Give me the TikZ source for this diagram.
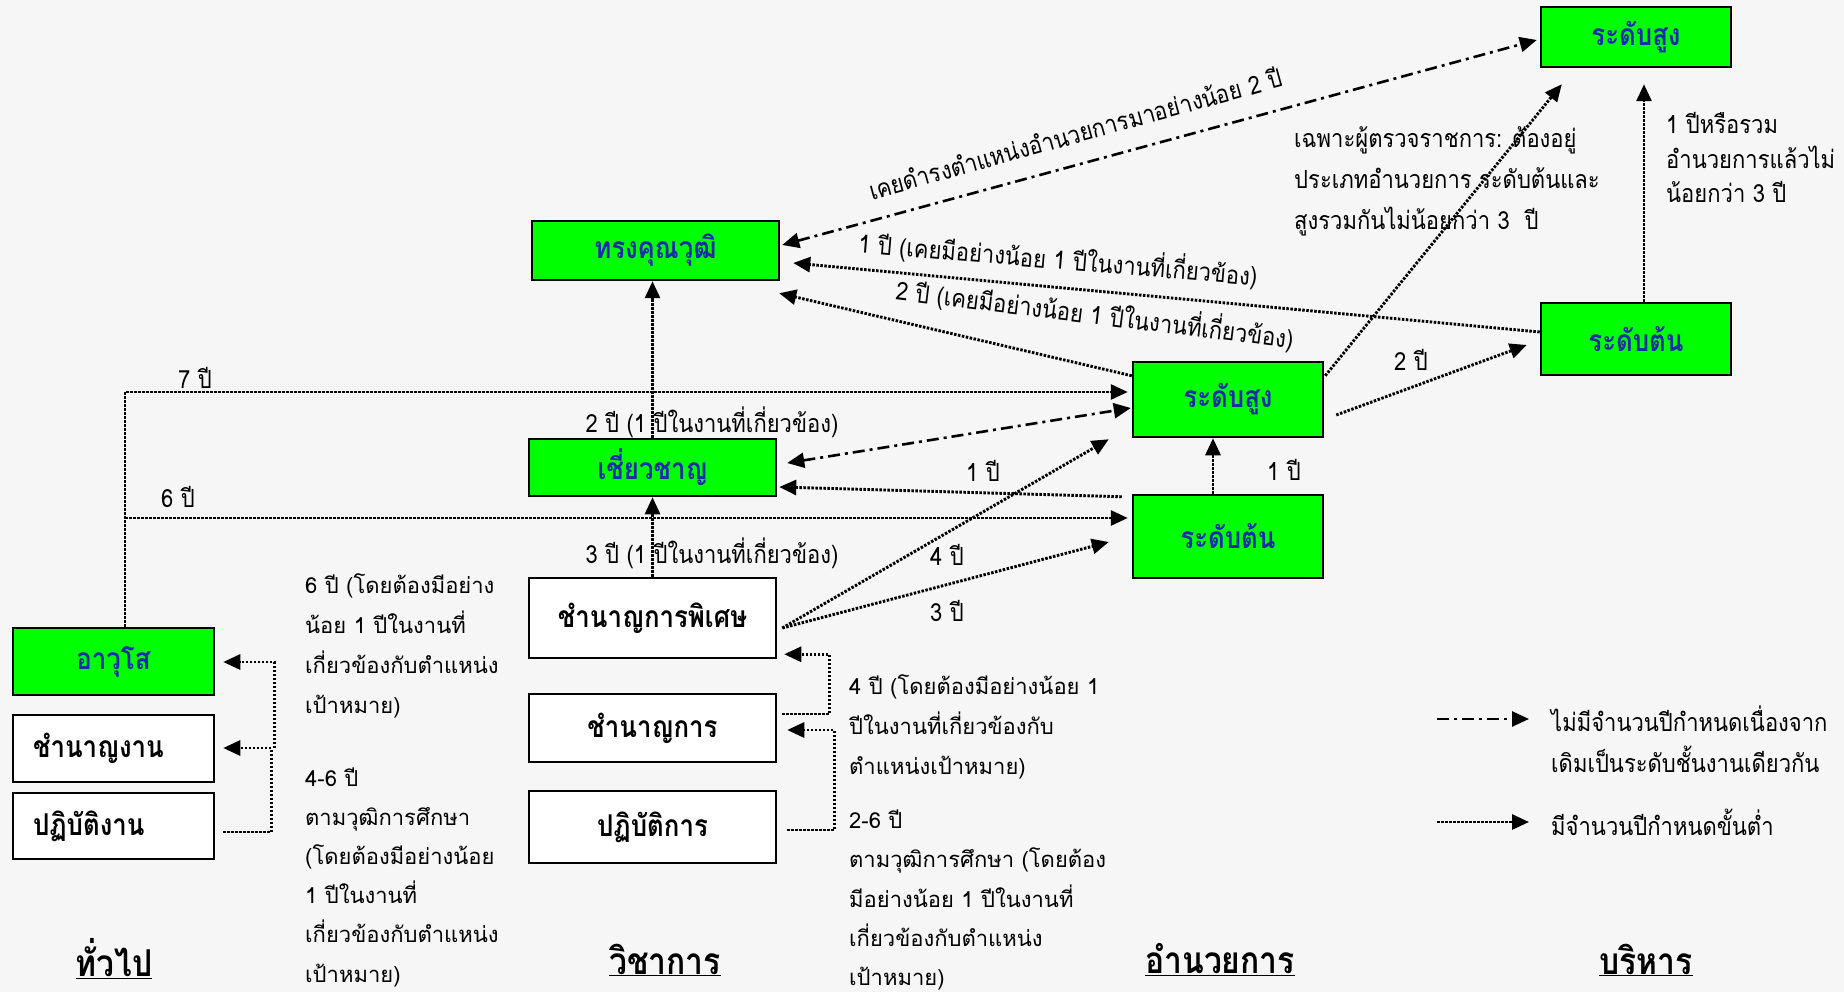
\documentclass[tikz,border=0pt]{standalone}
\usepackage{fontspec}
\newfontfamily\thai[Script=Thai]{Loma}
\newfontfamily\thaic[Script=Thai,FakeStretch=0.88]{Loma}
\newfontfamily\thaib[Script=Thai,FakeStretch=0.86]{Loma}
\usetikzlibrary{arrows.meta,calc}
\definecolor{bg}{RGB}{246,246,246}
\definecolor{boxgreen}{RGB}{0,255,0}
\definecolor{boxblue}{RGB}{25,45,170}
\tikzset{
  box/.style={draw=black, line width=2.5pt, inner sep=0pt, font=\thaib\bfseries\fontsize{30}{34}\selectfont},
  gbox/.style={box, fill=boxgreen, text=boxblue},
  wbox/.style={box, fill=white, text=black},
  lbl/.style={inner sep=0pt, font=\thaic\fontsize{25}{28}\selectfont, text=black},
  note/.style={lbl, align=left, anchor=west},
  wnote/.style={inner sep=0pt, align=left, anchor=west, text=black},
  head/.style={inner sep=0pt, font=\thaib\bfseries\fontsize{37}{42}\selectfont},
  tip/.style={-{Triangle[length=17pt,width=15pt]}},
  dtip/.style={{Triangle[length=17pt,width=15pt]}-{Triangle[length=17pt,width=15pt]}},
  dotl/.style={line width=2.9pt, dash pattern=on 2.5pt off 1.5pt, tip},
  dashdot/.style={line width=2.6pt, dash pattern=on 12pt off 5pt on 3pt off 5pt},
}
\begin{document}
\begin{tikzpicture}[x=1pt,y=-1pt]
\fill[bg] (0,0) rectangle (1844,992);
\useasboundingbox (0,0) rectangle (1844,992);

% boxes
\node[gbox, minimum width=247pt, minimum height=59pt] (tk) at (655.5,250.5) {ทรงคุณวุฒิ};
\node[gbox, minimum width=247pt, minimum height=57pt] (cc) at (652.5,467.5) {เชี่ยวชาญ};
\node[wbox, minimum width=247pt, minimum height=80pt] (cp) at (652.5,618) {ชำนาญการพิเศษ};
\node[wbox, minimum width=247pt, minimum height=68pt] (cg) at (652.5,728) {ชำนาญการ};
\node[wbox, minimum width=247pt, minimum height=72pt] (pk) at (652.5,827) {ปฏิบัติการ};
\node[gbox, minimum width=201pt, minimum height=67pt] (aw) at (113.5,661.5) {อาวุโส};
\node[wbox, inner xsep=20pt, text width=161pt, align=left, minimum height=67pt] (cn) at (113.5,748.5) {ชำนาญงาน};
\node[wbox, inner xsep=20pt, text width=161pt, align=left, minimum height=66pt] (pn) at (113.5,826) {ปฏิบัติงาน};
\node[gbox, minimum width=190pt, minimum height=75pt] (ah) at (1228,399.5) {ระดับสูง};
\node[gbox, minimum width=190pt, minimum height=83pt] (al) at (1228,536.5) {ระดับต้น};
\node[gbox, minimum width=190pt, minimum height=72pt] (bl) at (1636,339) {ระดับต้น};
\node[gbox, minimum width=190pt, minimum height=60pt] (bh) at (1636,37) {ระดับสูง};

% headings
\node[head] (h1) at (114,959) {\underline{ทั่วไป}};
\node[head] (h2) at (665,960) {\underline{วิชาการ}};
\node[head] (h3) at (1220,960) {\underline{อำนวยการ}};
\node[head] (h4) at (1646,960) {\underline{บริหาร}};

% connectors
\draw[dashdot, dtip] ($(tk.east)+(2,-5.5)$) -- ($(bh.west)+(-3,3)$);
\draw[dotl] ($(bl.west)+(0,-7)$) -- ($(tk.east)+(13,12.5)$);
\draw[dotl] ($(ah.north west)+(0,15)$) -- ($(tk.south east)+(-1,12)$);
\draw[dotl] ($(bl.north)+(8,0)$) -- ($(bh.south)+(8,16)$);
\draw[dotl] ($(ah.north east)+(1,15)$) -- ($(bh.south west)+(22,16)$);
\draw[dotl] ($(ah.east)+(12,15.5)$) -- ($(bl.west)+(-13,6)$);
\draw[dotl] ($(al.north)+(-15,0)$) -- ($(ah.south)+(-15,0)$);
\draw[dashdot, dtip] ($(cc.east)+(10,-4.5)$) -- ($(ah.west)+(-1,8.5)$);
\draw[dotl] ($(al.north west)+(-10,3)$) -- ($(cc.east)+(2,19.5)$);
\draw[dotl] ($(aw.north)+(11.5,0)$) |- ($(ah.west)+(-4,-7.5)$);
\coordinate (j6) at (125,518);
\draw[dotl] (j6) -- ($(al.west)+(-4,-18.5)$);
\draw[dotl] (cc.north) -- (cc.north |- tk.south);
\draw[dotl] (cp.north) -- (cp.north |- cc.south);
\draw[dotl] ($(cp.east)+(5,10)$) -- ($(ah.south west)+(-23,1)$);
\draw[dotl] ($(cp.east)+(5,10)$) -- ($(al.west)+(-23,5.5)$);
\draw[dotl] ($(cg.east)+(5,-14)$) -| ($(cp.south east)+(52,-5)$) -- ($(cp.south east)+(7,-5)$);
\draw[dotl] ($(pk.east)+(10,3)$) -| ($(cg.east)+(57,2)$) -- ($(cg.east)+(10,2)$);
\draw[dotl] ($(pn.east)+(8,6)$) -| ($(cn.east)+(56,-0.5)$) -- ($(cn.east)+(8,-0.5)$);
\draw[dotl] ($(cn.east)+(59,-0.5)$) |- ($(aw.east)+(8,0.5)$);

% labels
\node[lbl, rotate=15.5] (l1) at (1075,133) {เคยดำรงตำแหน่งอำนวยการมาอย่างน้อย 2 ปี};
\node[lbl, rotate=-4.7] (l2) at (1058,259) {1 ปี (เคยมีอย่างน้อย 1 ปีในงานที่เกี่ยวข้อง)};
\node[lbl, rotate=-7] (l3) at (1095,314) {2 ปี (เคยมีอย่างน้อย 1 ปีในงานที่เกี่ยวข้อง)};
\node[note, font=\thaic\fontsize{25}{34.5}\selectfont] (l4) at (1666,157.5) {1 ปีหรือรวม\\อำนวยการแล้วไม่\\น้อยกว่า 3 ปี};
\node[note, font=\thaic\fontsize{25}{41}\selectfont] (l5) at (1294,181) {เฉพาะผู้ตรวจราชการ: ต้องอยู่\\ประเภทอำนวยการ ระดับต้นและ\\สูงรวมกันไม่น้อยกว่า 3~ ปี};
\node[lbl] (l6) at (1411,360) {2 ปี};
\node[lbl] (l7) at (1284,470) {1 ปี};
\node[lbl] (l8) at (983,471) {1 ปี};
\node[lbl] (l9) at (195,378) {7 ปี};
\node[lbl] (l10) at (178,497) {6 ปี};
\node[lbl] (l11) at (712,422) {2 ปี (1 ปีในงานที่เกี่ยวข้อง)};
\node[lbl] (l12) at (712,553) {3 ปี (1 ปีในงานที่เกี่ยวข้อง)};
\node[lbl] (l13) at (947,555) {4 ปี};
\node[lbl] (l14) at (947,611) {3 ปี};
\node[wnote, font=\thai\fontsize{22}{40}\selectfont] (l15) at (849,727) {4 ปี (โดยต้องมีอย่างน้อย 1\\ปีในงานที่เกี่ยวข้องกับ\\ตำแหน่งเป้าหมาย)};
\node[wnote, font=\thai\fontsize{22}{39.3}\selectfont] (l16) at (849,900) {2-6 ปี\\ตามวุฒิการศึกษา (โดยต้อง\\มีอย่างน้อย 1 ปีในงานที่\\เกี่ยวข้องกับตำแหน่ง\\เป้าหมาย)};
\node[wnote, font=\thai\fontsize{22}{40}\selectfont] (l17) at (305,646) {6 ปี (โดยต้องมีอย่าง\\น้อย 1 ปีในงานที่\\เกี่ยวข้องกับตำแหน่ง\\เป้าหมาย)};
\node[wnote, font=\thai\fontsize{22}{39.2}\selectfont] (l18) at (305,877) {4-6 ปี\\ตามวุฒิการศึกษา\\(โดยต้องมีอย่างน้อย\\1 ปีในงานที่\\เกี่ยวข้องกับตำแหน่ง\\เป้าหมาย)};

% legend
\coordinate (lga) at (1437,719);
\coordinate (lgb) at (1529,719);
\coordinate (lgc) at (1437,822);
\coordinate (lgd) at (1529,822);
\draw[dashdot, tip] (lga) -- (lgb);
\draw[dotl] (lgc) -- (lgd);
\node[note, font=\thaic\fontsize{25}{41}\selectfont] (lt1) at (1551,739.5) {ไม่มีจำนวนปีกำหนดเนื่องจาก\\เดิมเป็นระดับชั้นงานเดียวกัน};
\node[note] (lt2) at (1551,822) {มีจำนวนปีกำหนดขั้นต่ำ};
\end{tikzpicture}
\end{document}
